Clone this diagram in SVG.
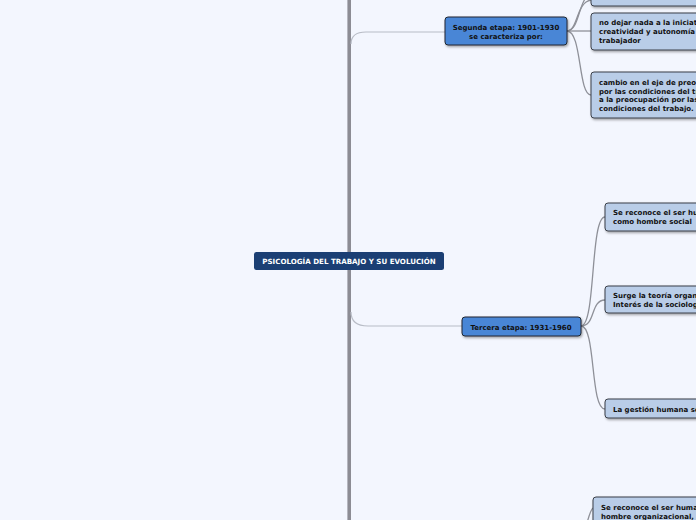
<svg xmlns="http://www.w3.org/2000/svg" width="696" height="520" viewBox="0 0 696 520">
<defs>
<filter id="sh" x="-10%" y="-10%" width="130%" height="140%">
<feDropShadow dx="1" dy="1.5" stdDeviation="0.8" flood-color="#000" flood-opacity="0.35"/>
</filter>
</defs>
<style>
.t{font-family:"DejaVu Sans",Verdana,sans-serif;font-weight:bold;font-size:7px;fill:#111;}
.tw{font-family:"DejaVu Sans",Verdana,sans-serif;font-weight:bold;font-size:7.1px;fill:#fff;}
.mid{fill:#4a86d6;stroke:#1f2630;stroke-width:1;filter:url(#sh);}
.leaf{fill:#b9cde8;stroke:#3a3f48;stroke-width:1;filter:url(#sh);}
.c1{fill:none;stroke:#b8bcc6;stroke-width:1.2;}
.c2{fill:none;stroke:#8e9098;stroke-width:1.3;}
</style>
<rect width="696" height="520" fill="#f3f6fe"/>
<g id="connectors">
<line x1="349.2" y1="0" x2="349.2" y2="520" stroke="#8c8c94" stroke-width="3.6"/>
<path class="c1" d="M351 44 Q351 32 366 32 L445 32"/>
<path class="c1" d="M351 312 Q351 326 368 326 L462 326"/>
<path class="c2" d="M567 31 C580 31 578 -2 591 -6"/>
<path class="c2" d="M567 31 C578 31 576 2 591 0"/>
<path class="c2" d="M567 31 L591 31"/>
<path class="c2" d="M567 31 C582 31 578 95 591 95"/>
<path class="c2" d="M581 326 C596 326 590 217 605 217"/>
<path class="c2" d="M581 326 C596 326 590 300 605 300"/>
<path class="c2" d="M581 326 C596 326 590 409 605 409"/>
<path class="c2" d="M585 530 C588 520 590 510 593 508"/>
</g>
<g id="root">
<rect x="254" y="252" width="190" height="18" rx="2.5" fill="#1b3f74"/>
<text class="tw" x="349" y="263.5" text-anchor="middle">PSICOLOGÍA DEL TRABAJO Y SU EVOLUCIÓN</text>
</g>
<g id="segunda">
<rect class="mid" x="445" y="17" width="122" height="28" rx="3"/>
<text class="t" x="506" y="29.5" text-anchor="middle">Segunda etapa: 1901-1930</text>
<text class="t" x="506" y="38.5" text-anchor="middle">se caracteriza por:</text>
</g>
<g id="tercera">
<rect class="mid" x="462" y="317" width="119" height="19" rx="3"/>
<text class="t" x="521" y="329.5" text-anchor="middle">Tercera etapa: 1931-1960</text>
</g>
<g id="seg-top">
<rect class="leaf" x="591" y="-20" width="120" height="26" rx="3"/>
</g>
<g id="seg-iniciativa">
<rect class="leaf" x="591" y="13" width="120" height="37" rx="3"/>
<text class="t" x="599" y="25">no dejar nada a la iniciativa</text>
<text class="t" x="599" y="34">creatividad y autonomía del</text>
<text class="t" x="599" y="43">trabajador</text>
</g>
<g id="seg-cambio">
<rect class="leaf" x="591" y="72" width="120" height="46" rx="3"/>
<text class="t" x="599" y="85">cambio en el eje de preocupación</text>
<text class="t" x="599" y="93.5">por las condiciones del trabajador</text>
<text class="t" x="599" y="102">a la preocupación por las</text>
<text class="t" x="599" y="110.5">condiciones del trabajo.</text>
</g>
<g id="ter-social">
<rect class="leaf" x="605" y="203" width="110" height="28" rx="3"/>
<text class="t" x="613" y="215">Se reconoce el ser humano</text>
<text class="t" x="613" y="224">como hombre social</text>
</g>
<g id="ter-teoria">
<rect class="leaf" x="605" y="286" width="110" height="27" rx="3"/>
<text class="t" x="613" y="298">Surge la teoría organizacional</text>
<text class="t" x="613" y="307">Interés de la sociología</text>
</g>
<g id="ter-gestion">
<rect class="leaf" x="605" y="399" width="110" height="19" rx="3"/>
<text class="t" x="613" y="411.5">La gestión humana se</text>
</g>
<g id="cuarta-organizacional">
<rect class="leaf" x="593" y="497" width="120" height="40" rx="3"/>
<text class="t" x="601" y="509.5">Se reconoce el ser humano</text>
<text class="t" x="601" y="518.5">hombre organizacional,</text>
</g>
</svg>
